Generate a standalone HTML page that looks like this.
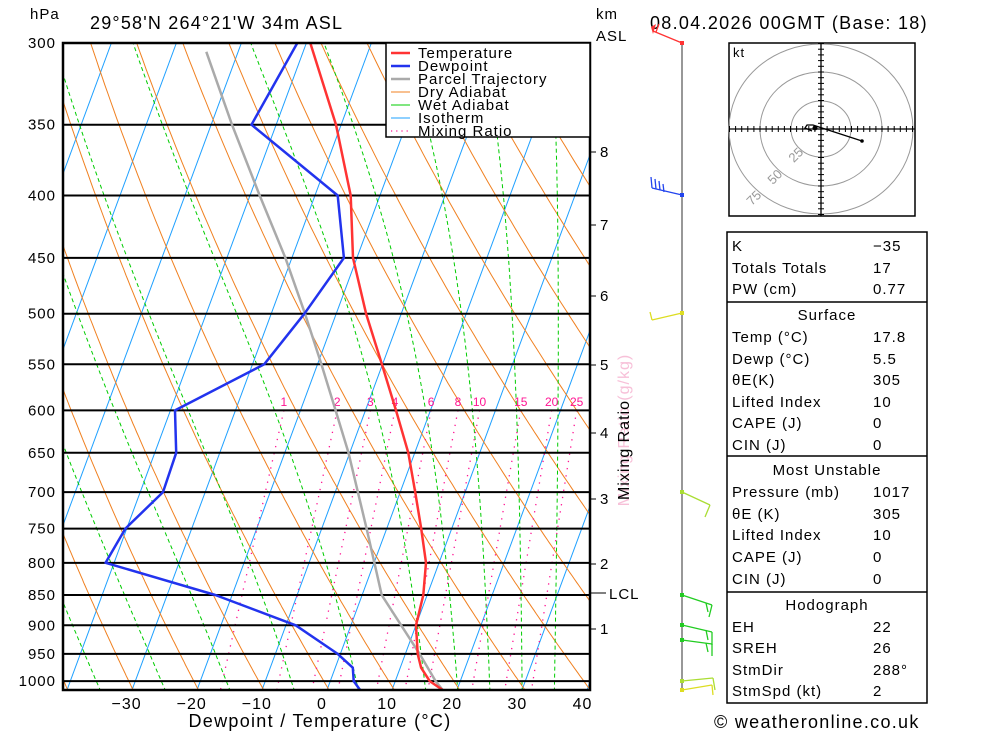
<!DOCTYPE html>
<html><head><meta charset="utf-8">
<style>
html,body{margin:0;padding:0;background:#fff;}
svg{display:block;font-family:"Liberation Sans",sans-serif;}
.t{font-size:15px;fill:#000;letter-spacing:1px}
</style></head>
<body>
<svg id="chart" width="1000" height="733" viewBox="0 0 1000 733" xmlns="http://www.w3.org/2000/svg">
<defs><clipPath id="plotclip"><rect x="63" y="43" width="527" height="647"/></clipPath></defs>
<rect width="1000" height="733" fill="#fff"/>
<g id="bg" clip-path="url(#plotclip)"></g>
<g id="iso"></g>
<g id="series" clip-path="url(#plotclip)"></g>
<rect x="63" y="43" width="527" height="647" fill="none" stroke="#000" stroke-width="2.5"/>
<g id="axes"></g>
<text x="30" y="19" class="t">hPa</text>
<text x="90" y="29" style="font-size:18px;letter-spacing:1.2px">29°58'N 264°21'W 34m ASL</text>
<text x="596" y="19" class="t">km</text>
<text x="596" y="41" class="t">ASL</text>
<text x="650" y="29" style="font-size:18px;letter-spacing:1.3px">08.04.2026 00GMT (Base: 18)</text>
<text x="320" y="727" text-anchor="middle" style="font-size:18px;letter-spacing:1.3px">Dewpoint / Temperature (°C)</text>
<text transform="translate(629,430) rotate(-90)" text-anchor="middle" style="font-size:16px;fill:#f7c0d8;letter-spacing:1px">Mixing Ratio (g/kg)</text>
<text transform="translate(629,450) rotate(-90)" text-anchor="middle" style="font-size:16px;letter-spacing:1px">Mixing Ratio</text>
<g>
<rect x="386" y="43" width="204" height="94" fill="#fff" stroke="#000" stroke-width="1.5"/>
<line x1="391" y1="53" x2="410" y2="53" stroke="#ff3333" stroke-width="2.5"/><text x="418" y="58" class="t">Temperature</text>
<line x1="391" y1="66" x2="410" y2="66" stroke="#2233ee" stroke-width="2.5"/><text x="418" y="71" class="t">Dewpoint</text>
<line x1="391" y1="79" x2="410" y2="79" stroke="#aaa" stroke-width="2.5"/><text x="418" y="84" class="t">Parcel Trajectory</text>
<line x1="391" y1="92" x2="410" y2="92" stroke="#f08020" stroke-width="1"/><text x="418" y="97" class="t">Dry Adiabat</text>
<line x1="391" y1="105" x2="410" y2="105" stroke="#00cc00" stroke-width="1"/><text x="418" y="110" class="t">Wet Adiabat</text>
<line x1="391" y1="118" x2="410" y2="118" stroke="#1ea0ff" stroke-width="1"/><text x="418" y="123" class="t">Isotherm</text>
<line x1="391" y1="131" x2="410" y2="131" stroke="#ff1493" stroke-width="1.2" stroke-dasharray="1.2 4"/><text x="418" y="136" class="t">Mixing Ratio</text>
</g>
<g id="wind"></g>
<g id="hodo"></g>
<g id="table"></g>
<text x="714" y="728" style="font-size:18px;letter-spacing:1.3px">© weatheronline.co.uk</text>
</svg>
<script>
const levels=[1017,1000,975,950,900,850,800,750,700,650,600,550,500,450,400,350,300];
const tempC=[17.8,15.3,13.2,11.9,10.0,9.4,8.0,5.3,2.3,-1.0,-5.3,-10.1,-15.4,-20.6,-24.5,-30.8,-39.4];
const dewC=[5.1,3.6,2.7,-0.4,-8.5,-22.6,-41.3,-40.2,-36.5,-36.7,-39.3,-28.2,-24.9,-22.0,-26.5,-43.8,-41.4];
const parcelLevels=[1017,1000,950,850,800,750,650,600,550,500,450,400,350,305];
const parcelC=[17.8,16.2,12.2,3.0,0.06,-3.1,-10.2,-14.6,-19.4,-24.8,-31.0,-38.5,-46.8,-54.9];
const pressureTicks=[300,350,400,450,500,550,600,650,700,750,800,850,900,950,1000];
const tempTicks=[-30,-20,-10,0,10,20,30,40];
const kmTicks=[1,2,3,4,5,6,7,8];
const kmY=[629,564,499,433,365,296,225,152];
const mixRatios=[1,2,3,4,6,8,10,15,20,25];
const wetStart=[-36,-26,-16,-6,4,14.5,19.5,24.5,29.5,34.5];

const NS='http://www.w3.org/2000/svg';
function yP(p){return 43+530*Math.log(p/300);}
function xT(T,p){return 327+6.5*T+0.37*(690-yP(p));}
function mk(tag,attrs,parent){const e=document.createElementNS(NS,tag);for(const k in attrs)e.setAttribute(k,attrs[k]);parent.appendChild(e);return e;}
const bg=document.getElementById('bg');
function polyT(fn,p0,p1,step){let pts=[];for(let p=p0;p>=p1;p-=step){pts.push(xT(fn(p),p).toFixed(1)+','+yP(p).toFixed(1));}return pts.join(' ');}
for(let T=-120;T<=40;T+=10){
  const l=mk('line',{x1:xT(T,1017),y1:yP(1017),x2:xT(T,300),y2:yP(300),stroke:'#1ea0ff','stroke-width':1},bg);
  
  
}
for(let th=-81;th<=220;th+=10){
  const K=th+273.15;
  const pl=mk('polyline',{points:polyT(p=>K*Math.pow(p/1000,0.286)-273.15,1020,295,5),fill:'none',stroke:'#f08020','stroke-width':1},bg);
  
  
}
function es(T){return 6.112*Math.exp(17.67*T/(T+243.5));}
function dTdp(T,p){const Tk=T+273.15;const rs=0.622*es(T)/(p-es(T));const Rd=287,cp=1005,Lv=2.5e6;return (Rd*Tk+Lv*rs)/(p*(cp+Lv*Lv*rs*0.622/(Rd*Tk*Tk)));}
wetStart.forEach(T0=>{
  let pts=[];let T=T0;
  let Tb=T0+dTdp(T0,1000)*20;pts.push(xT(Tb,1020).toFixed(1)+','+yP(1020).toFixed(1));
  for(let p=1000;p>=295;p-=5){pts.push(xT(T,p).toFixed(1)+','+yP(p).toFixed(1));T-=dTdp(T,p)*5;}
  const pl=mk('polyline',{points:pts.join(' '),fill:'none',stroke:'#00cc00','stroke-width':1,'stroke-dasharray':'4 3'},bg);
  
  
});
function tdW(w,p){w=w*1.04*(1+w*0.0055);const e=w*p/(622+w);const a=Math.log(e/6.112);return 243.5*a/(17.67-a);}
mixRatios.forEach(w=>{
  const pl=mk('line',{x1:xT(tdW(w,600),600),y1:yP(600),x2:xT(tdW(w,1017),1017),y2:yP(1017),stroke:'#ff1493','stroke-width':1.3,'stroke-dasharray':'1.3 6'},bg);
  
  
  const t=mk('text',{x:xT(tdW(w,600),600),y:406,'text-anchor':'middle',fill:'#ff1493','font-size':12},bg);
  t.textContent=w;
  
  
});
const iso=document.getElementById('iso');
pressureTicks.forEach(p=>{
  const l=mk('line',{x1:63,y1:yP(p),x2:590,y2:yP(p),stroke:'#000','stroke-width':2},iso);
  
  
  const t=mk('text',{x:56,y:yP(p)+5,'text-anchor':'end',class:'t'},iso);
  t.textContent=p;
  
  
});
const axes=document.getElementById('axes');
tempTicks.forEach(T=>{
  const t=mk('text',{x:322+6.514*T,y:709,'text-anchor':'middle',class:'t',style:'font-size:16px'},axes);
  t.textContent=(T<0?'\u2212':'')+Math.abs(T);
  
  
});
kmTicks.forEach((k,i)=>{
  mk('line',{x1:590,y1:kmY[i],x2:596,y2:kmY[i],stroke:'#000','stroke-width':1},axes);
  const t=mk('text',{x:600,y:kmY[i]+5,class:'t'},axes);
  t.textContent=k;
  
  
});
mk('line',{x1:590,y1:593,x2:606,y2:593,stroke:'#000','stroke-width':1},axes);
const lcl=mk('text',{x:609,y:599,class:'t',fill:'#555'},axes);lcl.textContent='LCL';


const series=document.getElementById('series');
function line(ps,ts,color,w,name){
  const pts=ps.map((p,i)=>xT(ts[i],p).toFixed(1)+','+yP(p).toFixed(1)).join(' ');
  const pl=mk('polyline',{points:pts,fill:'none',stroke:color,'stroke-width':w,'stroke-linejoin':'round'},series);
  
  
}
line(parcelLevels,parcelC,'#aaaaaa',2.5,'parcel-trajectory-line');
line(levels,dewC,'#2233ee',2.5,'dewpoint-line');
line(levels,tempC,'#ff3333',2.5,'temperature-line');
const wind=document.getElementById('wind');
mk('line',{x1:682,y1:43,x2:682,y2:690,stroke:'#777','stroke-width':1.5},wind);
function barb(y,ex,ey,color,ticks){
  mk('line',{x1:682,y1:y,x2:ex,y2:ey,stroke:color,'stroke-width':1.3},wind);
  mk('rect',{x:680,y:y-2,width:4,height:4,fill:color},wind);
  ticks.forEach(tk=>mk('line',{x1:tk[0],y1:tk[1],x2:tk[2],y2:tk[3],stroke:color,'stroke-width':1.3},wind));
}
barb(43,653,31,'#ff3333',[[656,32,659,24]]);
mk('polygon',{points:'651,27 656,24 653,34',fill:'#ff3333'},wind);
barb(195,652,188,'#2244ee',[[652,188,651,177],[656,189,655,179],[660,190,659,181],[664,192,663,184]]);
barb(313,652,320,'#dddd22',[[652,320,650,312]]);
barb(492,710,505,'#aadd33',[[710,505,705,517]]);
barb(595,712,605,'#22cc22',[[712,605,709,617],[706,603,708,612]]);
barb(625,712,632,'#22cc22',[[712,632,712,645],[706,630,708,640]]);
barb(640,712,644,'#22cc22',[[712,644,712,656],[706,643,708,652]]);
barb(681,713,678,'#aadd33',[[713,678,715,690]]);
barb(690,712,685,'#dddd22',[[712,685,713,695]]);
const hodo=document.getElementById('hodo');
mk('rect',{x:729,y:43,width:186,height:173,fill:'#fff',stroke:'#000','stroke-width':1.5},hodo);
const cx=821,cy=129;
[[30,28],[61,57],[92,85]].forEach(r=>mk('ellipse',{cx:cx,cy:cy,rx:r[0],ry:r[1],fill:'none',stroke:'#999','stroke-width':1},hodo));
mk('line',{x1:729,y1:cy,x2:915,y2:cy,stroke:'#000','stroke-width':1.3},hodo);
mk('line',{x1:cx,y1:43,x2:cx,y2:216,stroke:'#000','stroke-width':1.3},hodo);
for(let i=-15;i<=15;i++){if(!i)continue;mk('line',{x1:cx+i*6.1,y1:cy-3,x2:cx+i*6.1,y2:cy+3,stroke:'#000','stroke-width':1},hodo);mk('line',{x1:cx-3,y1:cy+i*5.7,x2:cx+3,y2:cy+i*5.7,stroke:'#000','stroke-width':1},hodo);}
mk('polyline',{points:'812,131 805,128 807,125 813,125 819,127 822,128 862,141',fill:'none',stroke:'#000','stroke-width':1.3},hodo);
mk('circle',{cx:862,cy:141,r:1.8,fill:'#000'},hodo);
mk('circle',{cx:815,cy:128,r:2.5,fill:'#000'},hodo);
const hk=mk('text',{x:733,y:57,class:'t',style:'font-size:13px'},hodo);hk.textContent='kt';
[[25,799,158],[50,778,180],[75,757,201]].forEach(l=>{const t=mk('text',{transform:`translate(${l[1]},${l[2]}) rotate(-45)`,'text-anchor':'middle',fill:'#999','font-size':13},hodo);t.textContent=l[0];});
const tb=document.getElementById('table');
mk('rect',{x:727,y:232,width:200,height:471,fill:'#fff',stroke:'#000','stroke-width':1.5},tb);
[302,456,592].forEach(y=>mk('line',{x1:727,y1:y,x2:927,y2:y,stroke:'#000','stroke-width':1.5},tb));
const rows=[['K','\u221235',245],['Totals Totals','17',267],['PW (cm)','0.77',288],['@Surface','',314],['Temp (°C)','17.8',336],['Dewp (°C)','5.5',358],['θE(K)','305',379],['Lifted Index','10',401],['CAPE (J)','0',422],['CIN (J)','0',444],['@Most Unstable','',469],['Pressure (mb)','1017',491],['θE (K)','305',513],['Lifted Index','10',534],['CAPE (J)','0',556],['CIN (J)','0',578],['@Hodograph','',604],['EH','22',626],['SREH','26',647],['StmDir','288°',669],['StmSpd (kt)','2',690]];
rows.forEach(r=>{
  if(r[0][0]==='@'){const t=mk('text',{x:827,y:r[2]+6,'text-anchor':'middle',class:'t'},tb);t.textContent=r[0].slice(1);return;}
  const a=mk('text',{x:732,y:r[2]+6,class:'t'},tb);a.textContent=r[0];
  const b=mk('text',{x:873,y:r[2]+6,class:'t'},tb);b.textContent=r[1];
});
</script>
</body></html>
